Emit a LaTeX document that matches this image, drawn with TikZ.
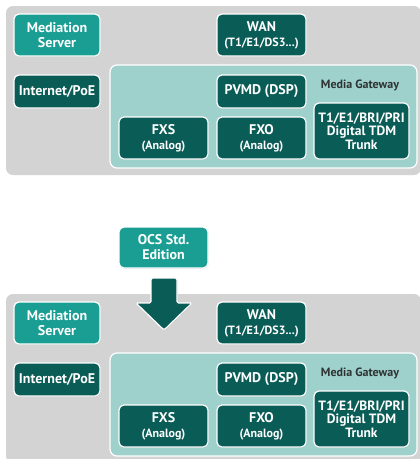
\documentclass[tikz,border=0pt]{standalone}
\usepackage{fontspec}
\setmainfont{PT Sans}
\usetikzlibrary{shadows}
\definecolor{dteal}{HTML}{0A5C56}
\definecolor{mteal}{HTML}{1A9E93}
\definecolor{lteal}{HTML}{9ED0CC}
\definecolor{pgray}{HTML}{D3D3D3}
\definecolor{lbl}{HTML}{2E3333}
\newcommand\subline[1]{{\fontsize{12}{15}\selectfont #1}}
\begin{document}
\begin{tikzpicture}[x=1pt,y=-1pt,
  panel/.style={fill=pgray, draw=none, rounded corners=7pt, inner sep=0pt},
  gate/.style={fill=lteal, draw=white, line width=1.2pt, rounded corners=7pt, inner sep=0pt},
  box/.style={draw=white, line width=1.2pt, rounded corners=5pt, fill=dteal, text=white,
    font=\bfseries\fontsize{14}{15}\selectfont, align=center, inner sep=0pt,
    drop shadow={opacity=0.25, shadow xshift=0.6pt, shadow yshift=-0.8pt}},
  lbox/.style={box, fill=mteal},
  glabel/.style={text=lbl, font=\bfseries\fontsize{12}{13}\selectfont, inner sep=0pt},
  bigarrow/.style={fill=dteal, draw=white, line width=1.2pt, rounded corners=1.5pt,
    drop shadow={opacity=0.25, shadow xshift=0.6pt, shadow yshift=-0.8pt}}
]
\useasboundingbox (0,0) rectangle (420,459);
\clip (0,0) rectangle (420,459);
\fill[white] (0,0) rectangle (420,459);
\foreach \s/\o in {a/0,b/288}{
  \node[panel, minimum width=415pt, minimum height=169pt] (gray\s) at (213.5,90.5+\o) {};
  \node[gate, minimum width=307pt, minimum height=103pt] (gw\s) at (263.5,116.5+\o) {};
  \node[lbox, minimum width=86pt, minimum height=42pt] (ms\s) at (57,35+\o) {Mediation\\Server};
  \node[box, minimum width=86pt, minimum height=33pt] (ip\s) at (57,91.5+\o) {Internet/PoE};
  \node[box, minimum width=89pt, minimum height=42pt] (wan\s) at (261.5,35+\o) {WAN\\\subline{(T1/E1/DS3...)}};
  \node[box, minimum width=89pt, minimum height=33pt] (pvmd\s) at (261.5,91.5+\o) {PVMD (DSP)};
  \node[box, minimum width=89pt, minimum height=42pt] (fxs\s) at (163.5,138+\o) {FXS\\\subline{(Analog)}};
  \node[box, minimum width=89pt, minimum height=42pt] (fxo\s) at (261.5,138+\o) {FXO\\\subline{(Analog)}};
  \node[box, minimum width=95pt, minimum height=56pt, font=\bfseries\fontsize{13.5}{13.5}\selectfont] (tdm\s) at (361.5,131+\o) {T1/E1/BRI/PRI\\Digital TDM\\Trunk};
  \node[glabel] (mgl\s) at (360,85+\o) {Media Gateway};
}
\node[lbox, minimum width=89pt, minimum height=41pt] (ocs) at (163.5,247.5) {OCS Std.\\Edition};
\coordinate (tip) at (164,330);
\draw[bigarrow] (151,278) -- (177,278) -- (177,303) -- (192,303) -- (tip) -- (136,303) -- (151,303) -- cycle;
\end{tikzpicture}
\end{document}
